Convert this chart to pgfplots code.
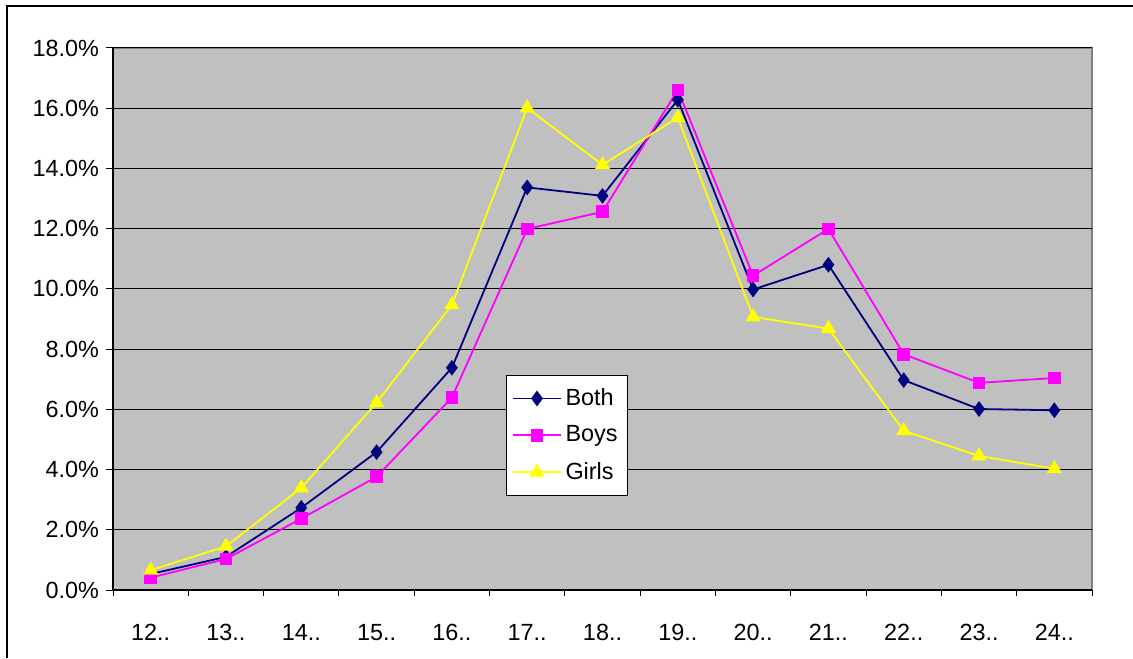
\documentclass[border=0pt]{standalone}
\usepackage{fontspec}
\setmainfont{Liberation Sans}
\usepackage{pgfplots}
\pgfplotsset{compat=1.18}
\definecolor{plotbg}{RGB}{192,192,192}
\definecolor{boxgray}{RGB}{128,128,128}
\definecolor{both}{RGB}{0,0,128}
\definecolor{boys}{RGB}{255,0,255}
\definecolor{girls}{RGB}{255,255,0}

\begin{document}
\begin{tikzpicture}
\useasboundingbox (0,0) rectangle (566.5pt,329pt);
\draw[line width=1pt] (3.5pt,0) -- (3.5pt,325.75pt) -- (566.5pt,325.75pt);
\begin{axis}[
  at={(56.5pt,34pt)}, anchor=south west,
  scale only axis, width=489.5pt, height=271pt,
  font=\fontsize{11.7}{14}\selectfont,
  /pgf/number format/assume math mode=true,
  axis x line*=bottom, axis y line*=left,
  axis line style={-, black, line width=0.7pt},
  axis background/.style={fill=plotbg, draw=boxgray, line width=1pt},
  xmin=-0.5, xmax=12.5,
  ymin=0, ymax=18,
  xtick={0,...,12},
  xticklabels={12..,13..,14..,15..,16..,17..,18..,19..,20..,21..,22..,23..,24..},
  major x tick style={draw=none},
  minor xtick={-0.5,0.5,...,12.5},
  minor tick length=3.2pt,
  minor x tick style={black, line width=0.5pt},
  xticklabel style={yshift=-10pt},
  ytick={0,2,...,18},
  yticklabel={\pgfmathprintnumber[fixed,fixed zerofill,precision=1]{\tick}\%},
  tick align=outside,
  major tick length=3.5pt,
  major y tick style={black, line width=0.5pt},
  ymajorgrids,
  y grid style={black, line width=0.5pt},
  legend style={at={(0.4014,0.3967)}, anchor=north west, draw=black, line width=0.5pt, fill=white,
    font=\fontsize{11.7}{14}\selectfont, row sep=4.7pt, inner xsep=3pt, inner ysep=4.5pt},
  legend cell align=left,
  legend image code/.code={%
    \draw[mark repeat=2,mark phase=2] plot coordinates {(0cm,0cm) (0.415cm,0cm) (0.83cm,0cm)};},
  legend image post style={line width=0.9pt},
  every axis plot/.append style={line width=0.9pt},
]
\addplot[color=both, mark=diamond*, mark size=3.2pt, mark options={fill=both, draw=both}] coordinates {
(0,0.53)(1,1.10)(2,2.73)(3,4.58)(4,7.38)(5,13.37)(6,13.09)(7,16.28)(8,9.98)(9,10.80)(10,6.97)(11,6.01)(12,5.97)};
\addlegendentry{Both}
\addplot[color=boys, mark=square*, mark size=2.7pt, mark options={fill=boys, draw=boys}] coordinates {
(0,0.41)(1,1.03)(2,2.37)(3,3.76)(4,6.39)(5,11.99)(6,12.56)(7,16.61)(8,10.44)(9,11.99)(10,7.83)(11,6.88)(12,7.04)};
\addlegendentry{Boys}
\addplot[color=girls, mark=triangle*, mark size=3.5pt, mark options={fill=girls, draw=girls}] coordinates {
(0,0.66)(1,1.45)(2,3.39)(3,6.22)(4,9.47)(5,16.01)(6,14.12)(7,15.69)(8,9.07)(9,8.68)(10,5.29)(11,4.45)(12,4.03)};
\addlegendentry{Girls}
\end{axis}
\end{tikzpicture}
\end{document}
